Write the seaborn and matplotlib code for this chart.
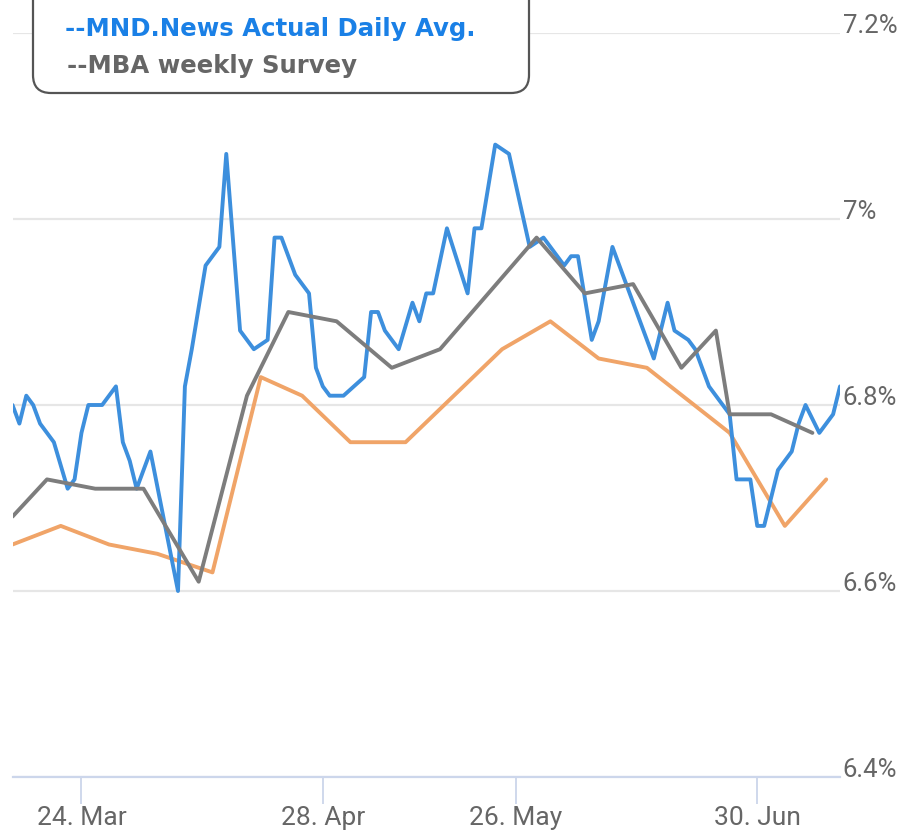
import matplotlib
matplotlib.use("Agg")

import pandas as pd
import matplotlib.pyplot as plt
import matplotlib.dates as mdates
import matplotlib.transforms as mtransforms
from matplotlib.patches import FancyBboxPatch
import seaborn as sns

# MND.News actual daily average (blue)
mnd_dates = [
    "2025-03-14", "2025-03-15", "2025-03-16", "2025-03-17", "2025-03-18", "2025-03-20",
    "2025-03-22", "2025-03-23", "2025-03-24", "2025-03-25", "2025-03-27", "2025-03-29",
    "2025-03-30", "2025-03-31", "2025-04-01", "2025-04-03", "2025-04-07", "2025-04-08",
    "2025-04-09", "2025-04-11", "2025-04-12", "2025-04-13", "2025-04-14", "2025-04-16",
    "2025-04-18", "2025-04-20", "2025-04-21", "2025-04-22", "2025-04-24", "2025-04-26",
    "2025-04-27", "2025-04-28", "2025-04-29", "2025-05-01", "2025-05-04", "2025-05-05",
    "2025-05-06", "2025-05-07", "2025-05-09", "2025-05-11", "2025-05-12", "2025-05-13",
    "2025-05-14", "2025-05-16", "2025-05-19", "2025-05-20", "2025-05-21", "2025-05-23",
    "2025-05-25", "2025-05-28", "2025-05-30", "2025-05-31", "2025-06-02", "2025-06-03",
    "2025-06-04", "2025-06-06", "2025-06-07", "2025-06-09", "2025-06-15", "2025-06-17",
    "2025-06-18", "2025-06-20", "2025-06-21", "2025-06-23", "2025-06-26", "2025-06-27",
    "2025-06-29", "2025-06-30", "2025-07-01", "2025-07-03", "2025-07-05", "2025-07-06",
    "2025-07-07", "2025-07-09", "2025-07-11", "2025-07-12",
]
mnd_rates = [
    6.80, 6.78, 6.81, 6.80, 6.78, 6.76,
    6.71, 6.72, 6.77, 6.80, 6.80, 6.82,
    6.76, 6.74, 6.71, 6.75, 6.60, 6.82,
    6.86, 6.95, 6.96, 6.97, 7.07, 6.88,
    6.86, 6.87, 6.98, 6.98, 6.94, 6.92,
    6.84, 6.82, 6.81, 6.81, 6.83, 6.90,
    6.90, 6.88, 6.86, 6.91, 6.89, 6.92,
    6.92, 6.99, 6.92, 6.99, 6.99, 7.08,
    7.07, 6.97, 6.98, 6.97, 6.95, 6.96,
    6.96, 6.87, 6.89, 6.97, 6.85, 6.91,
    6.88, 6.87, 6.86, 6.82, 6.79, 6.72,
    6.72, 6.67, 6.67, 6.73, 6.75, 6.78,
    6.80, 6.77, 6.79, 6.82,
]

# MBA weekly survey (gray)
mba_dates = [
    "2025-03-14", "2025-03-19", "2025-03-26", "2025-04-02", "2025-04-10", "2025-04-17",
    "2025-04-23", "2025-04-30", "2025-05-08", "2025-05-15", "2025-05-22", "2025-05-29",
    "2025-06-05", "2025-06-12", "2025-06-19", "2025-06-24", "2025-06-26", "2025-07-02",
    "2025-07-08",
]
mba_rates = [
    6.68, 6.72, 6.71, 6.71, 6.61, 6.81,
    6.90, 6.89, 6.84, 6.86, 6.92, 6.98,
    6.92, 6.93, 6.84, 6.88, 6.79, 6.79,
    6.77,
]

# third weekly series (orange) - its legend entry is cut off above the image
weekly_dates = [
    "2025-03-14", "2025-03-21", "2025-03-28", "2025-04-04", "2025-04-12", "2025-04-19",
    "2025-04-25", "2025-05-02", "2025-05-10", "2025-05-24", "2025-05-31", "2025-06-07",
    "2025-06-14", "2025-06-26", "2025-07-04", "2025-07-10",
]
weekly_rates = [
    6.65, 6.67, 6.65, 6.64, 6.62, 6.83,
    6.81, 6.76, 6.76, 6.86, 6.89, 6.85,
    6.84, 6.77, 6.67, 6.72,
]

tick_dates = ["2025-03-24", "2025-04-28", "2025-05-26", "2025-06-30"]
x_range = ["2025-03-14", "2025-07-12"]
y_ticks = [6.4, 6.6, 6.8, 7.0, 7.2]
y_labels = ["6.4%", "6.6%", "6.8%", "7%", "7.2%"]

series_names = ["weekly", "MND.News", "MBA"]
series_colors = ["#f0a468", "#3d8fdd", "#7d7d7d"]

df = pd.concat([
    pd.DataFrame({"date": pd.to_datetime(weekly_dates), "rate": weekly_rates, "series": "weekly"}),
    pd.DataFrame({"date": pd.to_datetime(mnd_dates), "rate": mnd_rates, "series": "MND.News"}),
    pd.DataFrame({"date": pd.to_datetime(mba_dates), "rate": mba_rates, "series": "MBA"}),
], ignore_index=True)

sns.set_style("white")
plt.rcParams["font.family"] = ["Roboto", "DejaVu Sans"]

W, H = 900, 833
fig = plt.figure(figsize=(W / 100, H / 100), dpi=100)
ax = fig.add_axes([12.5 / W, 1 - 777 / H, 827.5 / W, 744 / H])

sns.lineplot(data=df, x="date", y="rate", hue="series", hue_order=series_names,
             palette=series_colors, estimator=None, linewidth=2.8, legend=False, ax=ax)

ax.set_xlim(pd.to_datetime(x_range))
ax.set_ylim(y_ticks[0], y_ticks[-1])
ax.set_xticks(pd.to_datetime(tick_dates))
ax.xaxis.set_major_formatter(mdates.DateFormatter("%d. %b"))
ax.set_yticks(y_ticks, y_labels)
ax.yaxis.tick_right()
ax.set_xlabel("")
ax.set_ylabel("")

ax.grid(axis="y", color="#e6e6e6", linewidth=1.6)
ax.grid(axis="x", visible=False)
for side in ["left", "right", "top"]:
    ax.spines[side].set_visible(False)
ax.spines["bottom"].set_color("#ccd6eb")
ax.spines["bottom"].set_linewidth(1.6)

ax.tick_params(axis="y", length=0, pad=2, labelsize=18.5, labelcolor="#666666")
ax.tick_params(axis="x", bottom=True, direction="out", length=19.5, width=1.3,
               color="#ccd6eb", pad=1.5, labelsize=19, labelcolor="#666666")
for lbl in ax.get_yticklabels():
    lbl.set_verticalalignment("baseline")

# legend box, top part runs off the image
box = FancyBboxPatch((33, H - 93), 496, 140, boxstyle="round,pad=0,rounding_size=18",
                     transform=mtransforms.IdentityTransform(), facecolor="white",
                     edgecolor="#555555", linewidth=1.6, zorder=5)
fig.add_artist(box)
fig.text(65 / W, 1 - 36 / H, "--MND.News Actual Daily Avg.", color="#1a80e6",
         fontsize=17.6, fontweight="bold", family="DejaVu Sans",
         va="baseline", zorder=6)
fig.text(67 / W, 1 - 73.5 / H, "--MBA weekly Survey", color="#666666",
         fontsize=17.6, fontweight="bold", family="DejaVu Sans",
         va="baseline", zorder=6)

fig.savefig("out.png", dpi=100)
